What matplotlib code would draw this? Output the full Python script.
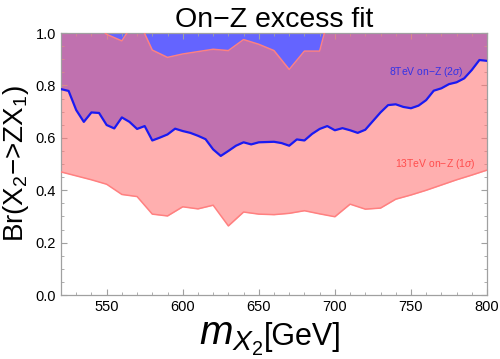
import matplotlib
matplotlib.use("Agg")
import matplotlib.pyplot as plt
from matplotlib.ticker import MultipleLocator
import numpy as np

plt.rcParams['font.family'] = ['Liberation Sans', 'DejaVu Sans']
plt.rcParams['mathtext.fontset'] = 'custom'
plt.rcParams['mathtext.rm'] = 'Liberation Sans'
plt.rcParams['mathtext.it'] = 'Liberation Sans:italic'
plt.rcParams['mathtext.bf'] = 'Liberation Sans:bold'

# 8 TeV on-Z (2 sigma) lower boundary, 5 GeV steps
mass_8tev = list(range(520, 801, 5))
br_8tev_low = [0.786, 0.779, 0.706, 0.661, 0.697, 0.695, 0.649, 0.636, 0.678, 0.661,
               0.634, 0.645, 0.590, 0.601, 0.613, 0.635, 0.626, 0.619, 0.608, 0.595,
               0.556, 0.531, 0.550, 0.570, 0.583, 0.575, 0.583, 0.584, 0.585, 0.580,
               0.570, 0.594, 0.590, 0.615, 0.634, 0.645, 0.629, 0.637, 0.629, 0.619,
               0.631, 0.664, 0.697, 0.725, 0.728, 0.718, 0.713, 0.723, 0.744, 0.780,
               0.789, 0.805, 0.812, 0.827, 0.859, 0.897, 0.894]
br_8tev_high = [1.2] * len(mass_8tev)

# 13 TeV on-Z (1 sigma) band, 10 GeV steps
mass_13tev = list(range(520, 801, 10))
br_13tev_low = [0.470, 0.455, 0.440, 0.423, 0.384, 0.376, 0.309, 0.302, 0.337, 0.329,
                0.343, 0.264, 0.317, 0.309, 0.307, 0.312, 0.322, 0.310, 0.299, 0.347,
                0.328, 0.332, 0.366, 0.382, 0.400, 0.420, 0.440, 0.458, 0.477]
br_13tev_high = [1.10, 1.10, 1.05, 0.995, 0.970, 1.060, 0.935, 0.907, 0.920, 0.929,
                 0.938, 0.933, 0.975, 0.957, 0.933, 0.861, 0.931, 0.931, 1.150, 1.150,
                 1.150, 1.150, 1.150, 1.150, 1.150, 1.150, 1.150, 1.150, 1.150]

title = "On\u2212Z excess fit"
label_8 = "8TeV on\u2212Z (2$\\sigma$)"
label_13 = "13TeV on\u2212Z (1$\\sigma$)"

fig = plt.figure(figsize=(5.0, 3.59), dpi=100)
ax = fig.add_axes([0.122, 0.178, 0.852, 0.730])

blue_fill = (100/255, 100/255, 1.0)
pink = (1.0, 123/255, 123/255)

ax.fill_between(mass_8tev, br_8tev_low, br_8tev_high, color=blue_fill, lw=0, zorder=1)
ax.fill_between(mass_13tev, br_13tev_low, br_13tev_high, color=pink, alpha=0.6, lw=0, zorder=2)
ax.plot(mass_13tev, br_13tev_low, color=(1.0, 0.5, 0.5), lw=1.1, zorder=3)
ax.plot(mass_13tev, br_13tev_high, color=(1.0, 0.5, 0.5), lw=1.1, zorder=3)
ax.plot(mass_8tev, br_8tev_low, color=(0.1, 0.1, 0.95), lw=1.6, zorder=4)

ax.text(760, 0.852, label_8, color=(0.2, 0.2, 0.9), fontsize=7.5, ha='center', va='center', zorder=5)
ax.text(766, 0.50, label_13, color=(1.0, 0.3, 0.3), fontsize=7.5, ha='center', va='center', zorder=5)

ax.set_xlim(520, 800)
ax.set_ylim(0, 1.0)
ax.xaxis.set_major_locator(MultipleLocator(50))
ax.xaxis.set_minor_locator(MultipleLocator(10))
ax.yaxis.set_major_locator(MultipleLocator(0.2))
ax.yaxis.set_minor_locator(MultipleLocator(0.05))
ax.yaxis.set_major_formatter(matplotlib.ticker.FormatStrFormatter('%.1f'))

gray = '#a0a0a0'
for s in ax.spines.values():
    s.set_color(gray)
    s.set_linewidth(0.9)
ax.tick_params(which='both', direction='in', top=True, right=True, color=gray, labelsize=10.5)
ax.tick_params(which='major', length=4, width=0.8)
ax.tick_params(which='minor', length=2, width=0.6)

ax.set_title(title, fontsize=20.5, pad=3)
fig.text(0.527, 0.040, r'$m_{X_2}$', fontsize=29, ha='right', va='baseline')
fig.text(0.527, 0.040, '[GeV]', fontsize=22, ha='left', va='baseline')
ax.set_ylabel(r'Br(X$_2$$-$>ZX$_1$)', fontsize=20, labelpad=3)

fig.savefig('out.png', dpi=100)
